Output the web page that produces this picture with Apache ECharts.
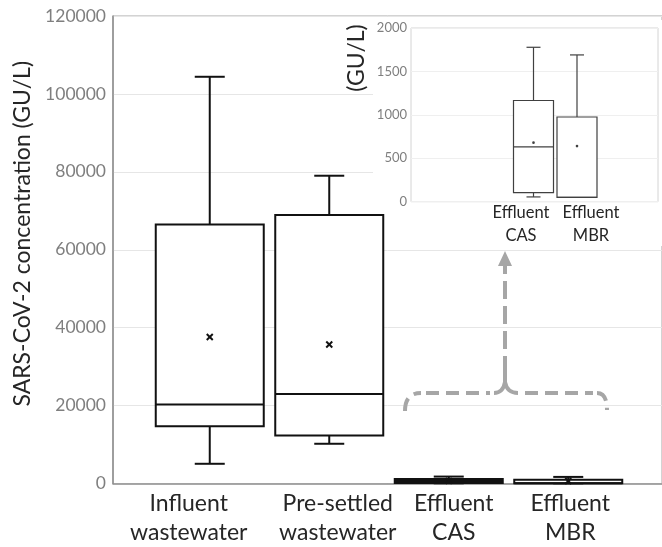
<!DOCTYPE html>
<html>
<head>
<meta charset="utf-8">
<script src="https://cdn.jsdelivr.net/npm/echarts@6/dist/echarts.min.js"></script>
<style>
  html, body { margin: 0; padding: 0; background: #fff; }
  #chart { width: 662px; height: 547px; }
</style>
</head>
<body>
<div id="chart"></div>
<script>
// data (GU/L)
const categories = ['Influent\nwastewater', 'Pre-settled\nwastewater', 'Effluent\nCAS', 'Effluent\nMBR'];
const boxMin = [5060, 10200, 55, 50];
const boxQ1 = [14700, 12300, 105, 50];
const boxMedian = [20300, 23000, 632, 50];
const boxQ3 = [66500, 68900, 1165, 975];
const boxMax = [104400, 79000, 1778, 1690];
const boxMean = [37600, 35700, 680, 640];
const mainTicks = [0, 20000, 40000, 60000, 80000, 100000, 120000];
const insetTicks = [0, 500, 1000, 1500, 2000];
const insetCategories = ['Effluent\nCAS', 'Effluent\nMBR'];

const FONT = 'Lato, "Open Sans", sans-serif';

const mainData = categories.map((c, i) => [i, boxMin[i], boxQ1[i], boxMedian[i], boxQ3[i], boxMax[i], boxMean[i]]);
const insetData = [2, 3].map((k, i) => [i, boxMin[k], boxQ1[k], boxMedian[k], boxQ3[k], boxMax[k], boxMean[k]]);

// the category labels in the picture sit a little off their box centres
const mainLabelPad = [[0, 42, 0, 0], [0, 0, 0, 17], [0, 0, 0, 10], [0, 0, 0, 4]];
const insetLabelPad = [[0, 25, 0, 0], [0, 0, 0, 28]];

function boxRenderer(boxWidth, capWidth, lineWidth, color, meanKind) {
  return function (params, api) {
    const idx = api.value(0);
    const pMin = api.coord([idx, api.value(1)]);
    const pQ1 = api.coord([idx, api.value(2)]);
    const pMed = api.coord([idx, api.value(3)]);
    const pQ3 = api.coord([idx, api.value(4)]);
    const pMax = api.coord([idx, api.value(5)]);
    const pMean = api.coord([idx, api.value(6)]);
    const cx = pMed[0];
    const hw = boxWidth / 2;
    const hc = capWidth / 2;
    const st = { stroke: color, lineWidth: lineWidth, fill: null };
    const children = [
      { type: 'line', shape: { x1: cx, y1: pMax[1], x2: cx, y2: pQ3[1] }, style: st },
      { type: 'line', shape: { x1: cx, y1: pQ1[1], x2: cx, y2: pMin[1] }, style: st },
      { type: 'line', shape: { x1: cx - hc, y1: pMax[1], x2: cx + hc, y2: pMax[1] }, style: st },
      { type: 'line', shape: { x1: cx - hc, y1: pMin[1], x2: cx + hc, y2: pMin[1] }, style: st },
      { type: 'rect', shape: { x: cx - hw, y: pQ3[1], width: boxWidth, height: pQ1[1] - pQ3[1] },
        style: { stroke: color, lineWidth: lineWidth, fill: '#fff' } },
      { type: 'line', shape: { x1: cx - hw, y1: pMed[1], x2: cx + hw, y2: pMed[1] }, style: st }
    ];
    if (meanKind === 'cross') {
      const s = 3;
      children.push({ type: 'line', shape: { x1: cx - s, y1: pMean[1] - s, x2: cx + s, y2: pMean[1] + s }, style: { stroke: color, lineWidth: 2 } });
      children.push({ type: 'line', shape: { x1: cx - s, y1: pMean[1] + s, x2: cx + s, y2: pMean[1] - s }, style: { stroke: color, lineWidth: 2 } });
    } else {
      children.push({ type: 'circle', shape: { cx: cx, cy: pMean[1], r: 1.3 }, style: { fill: color } });
    }
    return { type: 'group', children: children };
  };
}

const GREY = '#a6a6a6';
const dash = { fill: null, stroke: GREY, lineWidth: 4, lineDash: [13, 7] };
const solid = { fill: null, stroke: GREY, lineWidth: 4 };

const chart = echarts.init(document.getElementById('chart'));

const option = {
  animation: false,
  backgroundColor: '#fff',
  grid: [
    // main frame
    { left: 113, right: 0, top: 16, bottom: 63.5, show: true, borderColor: '#a6a6a6', borderWidth: 1 },
    // main boxes
    { left: 150, right: 34, top: 16, bottom: 63.5 },
    // inset frame
    { left: 411, right: 4, top: 28, bottom: 345.3, show: true, borderColor: '#d4d4d4', borderWidth: 1, z: 3 },
    // inset boxes
    { left: 511.75, right: 63.25, top: 28, bottom: 345.3, z: 3 }
  ],
  xAxis: [
    { gridIndex: 0, type: 'value', min: 0, max: 1, axisLine: { show: true, lineStyle: { color: '#8c8c8c', width: 1.5 } },
      axisTick: { show: false }, axisLabel: { show: false }, splitLine: { show: false } },
    { gridIndex: 1, type: 'category', boundaryGap: true,
      data: categories.map((c, i) => ({ value: c, textStyle: { padding: mainLabelPad[i] } })),
      axisLine: { show: false }, axisTick: { show: false },
      axisLabel: { fontFamily: FONT, fontSize: 23, color: '#262626', lineHeight: 28.5, margin: 6, interval: 0 } },
    { gridIndex: 2, type: 'value', min: 0, max: 1, z: 3, axisLine: { show: false }, axisTick: { show: false },
      axisLabel: { show: false }, splitLine: { show: false } },
    { gridIndex: 3, type: 'category', z: 3, boundaryGap: true,
      data: insetCategories.map((c, i) => ({ value: c, textStyle: { padding: insetLabelPad[i] } })),
      axisLine: { show: false }, axisTick: { show: false },
      axisLabel: { fontFamily: FONT, fontSize: 16.5, color: '#262626', lineHeight: 22.5, margin: 0, interval: 0 } }
  ],
  yAxis: [
    { gridIndex: 0, type: 'value', min: mainTicks[0], max: mainTicks[mainTicks.length - 1], interval: mainTicks[1] - mainTicks[0],
      name: 'SARS-CoV-2 concentration (GU/L)', nameLocation: 'middle', nameGap: 79, nameRotate: 90,
      nameTextStyle: { fontFamily: FONT, fontSize: 23, color: '#262626', padding: [0, 0, 0, 32] },
      axisLine: { show: true, lineStyle: { color: '#8c8c8c', width: 1.5 } }, axisTick: { show: false },
      axisLabel: { fontFamily: FONT, fontSize: 17.5, color: '#7f7f7f', margin: 7, formatter: v => String(v) },
      splitLine: { show: true, lineStyle: { color: '#e6e6e6', width: 1 } } },
    { gridIndex: 1, type: 'value', min: mainTicks[0], max: mainTicks[mainTicks.length - 1], show: false },
    { gridIndex: 2, type: 'value', z: 3, min: insetTicks[0], max: insetTicks[insetTicks.length - 1], interval: insetTicks[1] - insetTicks[0],
      axisLine: { show: false }, axisTick: { show: false },
      axisLabel: { fontFamily: FONT, fontSize: 13, color: '#7f7f7f', margin: 4, formatter: v => String(v) },
      splitLine: { show: true, lineStyle: { color: '#efefef', width: 1 } } },
    { gridIndex: 3, type: 'value', min: insetTicks[0], max: insetTicks[insetTicks.length - 1], show: false }
  ],
  graphic: [
    // white backing of the inset
    { type: 'rect', z: 1, shape: { x: 373, y: 20, width: 289, height: 226 }, style: { fill: '#fff' } },
    { type: 'text', z: 4, x: 357, y: 58, rotation: Math.PI / 2,
      style: { text: '(GU/L)', fontFamily: FONT, fontSize: 23, fill: '#262626', align: 'center', verticalAlign: 'middle' } },
    // dashed brace under the inset
    { type: 'bezierCurve', z: 4, shape: { x1: 405, y1: 411, cpx1: 405, cpy1: 393, x2: 421, y2: 393 }, style: dash },
    { type: 'line', z: 4, shape: { x1: 426, y1: 393, x2: 490, y2: 393 }, style: dash },
    { type: 'bezierCurve', z: 4, shape: { x1: 494, y1: 393, cpx1: 503, cpy1: 393, x2: 505, y2: 382 }, style: solid },
    { type: 'bezierCurve', z: 4, shape: { x1: 505, y1: 382, cpx1: 507, cpy1: 393, x2: 518, y2: 393 }, style: solid },
    { type: 'line', z: 4, shape: { x1: 505, y1: 384, x2: 505, y2: 356 }, style: solid },
    { type: 'line', z: 4, shape: { x1: 525, y1: 393, x2: 593, y2: 393 }, style: dash },
    { type: 'bezierCurve', z: 4, shape: { x1: 597, y1: 393, cpx1: 607, cpy1: 393, x2: 607, y2: 410 }, style: dash },
    // arrow up to the inset
    { type: 'line', z: 4, shape: { x1: 505, y1: 349, x2: 505, y2: 264 },
      style: { stroke: GREY, lineWidth: 4, lineDash: [18, 7] } },
    { type: 'polygon', z: 4, shape: { points: [[505, 251], [498, 266], [512, 266]] }, style: { fill: GREY } }
  ],
  series: [
    { type: 'custom', xAxisIndex: 1, yAxisIndex: 1, z: 2, data: mainData,
      encode: { x: 0, y: [1, 2, 3, 4, 5] },
      renderItem: boxRenderer(108, 30, 2, '#111', 'cross') },
    { type: 'custom', xAxisIndex: 3, yAxisIndex: 3, z: 5, data: insetData,
      encode: { x: 0, y: [1, 2, 3, 4, 5] },
      renderItem: boxRenderer(40, 14, 1.2, '#404040', 'dot') }
  ]
};

chart.setOption(option);
</script>
</body>
</html>
